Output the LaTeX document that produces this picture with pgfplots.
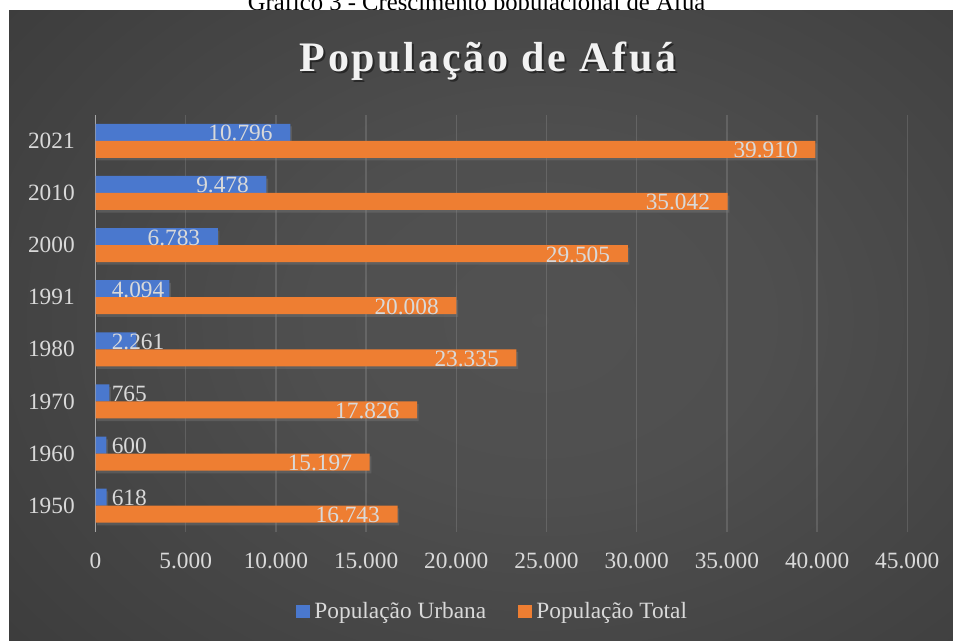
\documentclass[border=0pt]{standalone}
\usepackage{fontspec}
\setmainfont{Liberation Serif}
\newfontfamily\titlefont[LetterSpace=6.5]{Liberation Serif}
\usepackage{pgfplots}
\pgfplotsset{compat=1.18}
\usetikzlibrary{shadows}
\definecolor{labelgray}{RGB}{217,217,217}
\definecolor{barblue}{RGB}{74,120,206}
\definecolor{barorange}{RGB}{238,126,50}
\definecolor{axisgray}{RGB}{166,166,166}
\pgfdeclareradialshading{bgshade}{\pgfpoint{0bp}{0bp}}{rgb(0bp)=(0.32,0.32,0.32); rgb(10bp)=(0.31,0.31,0.31); rgb(50bp)=(0.17,0.17,0.17); rgb(75bp)=(0.14,0.14,0.14)}
\newcommand\lblfont{\fontsize{17.5}{21}\selectfont}
\begin{document}
\begin{tikzpicture}
\useasboundingbox (0,0) rectangle (714.75pt,480.75pt);
\clip (0,0) rectangle (714.75pt,480.75pt);
\fill[white] (0,0) rectangle (714.75pt,480.75pt);
\node[anchor=base, inner sep=0pt, font=\fontsize{18.5}{22}\selectfont, text=black] at (357.4pt,472.9pt) {Gráfico 3 - Crescimento populacional de Afuá};
\begin{scope}
\clip (6.75pt,0) rectangle (714.75pt,472.5pt);
\shade[shading=bgshade] (-15pt,-74.25pt) rectangle (825pt,555.75pt);
\end{scope}
% title
\node[anchor=base, inner sep=0pt, text=black, opacity=0.45, font=\titlefont\bfseries\fontsize{31.5}{36}\selectfont] at (367.5pt,425.3pt) {População de Afuá};
\node[anchor=base, inner sep=0pt, text={rgb,255:red,242;green,242;blue,242}, font=\titlefont\bfseries\fontsize{31.5}{36}\selectfont] at (366pt,426.75pt) {População de Afuá};
\begin{axis}[
  at={(71.625pt,81.9pt)}, anchor=south west,
  scale only axis, width=608.85pt, height=312.8pt,
  xmin=0, xmax=45000, ymin=-0.5, ymax=7.5,
  xtick={0,5000,...,45000},
  ytick={0,...,7},
  yticklabels={1950,1960,1970,1980,1991,2000,2010,2021},
  scaled x ticks=false,
  /pgf/number format/1000 sep={.},
  /pgf/number format/assume math mode=true,
  axis line style={draw=none},
  major tick length=0pt,
  tick style={draw=none},
  xmajorgrids,
  major grid style={draw=white, opacity=0.13, line width=1.1pt},
  extra x ticks={0},
  extra x tick labels={},
  extra x tick style={major grid style={draw=axisgray, opacity=1, line width=1.1pt}},
  ticklabel style={font=\lblfont, text=labelgray},
  yticklabel style={inner sep=0pt, xshift=-15.4pt},
  xticklabel style={inner sep=0pt, yshift=-15.5pt},
  legend style={at={(0.488,-0.1906)}, anchor=center, legend columns=2, draw=none, fill=none,
    text=labelgray, font=\lblfont, nodes={inner sep=0pt},
    /tikz/every odd column/.append style={column sep=3.75pt},
    /tikz/every even column/.append style={column sep=24pt}},
]
\addlegendimage{legend image code/.code={\fill[barblue] (0pt,-4.75pt) rectangle (9.5pt,4.75pt);}}
\addlegendentry{População Urbana}
\addlegendimage{legend image code/.code={\fill[barorange] (0pt,-4.75pt) rectangle (9.5pt,4.75pt);}}
\addlegendentry{População Total}
\addplot[forget plot, xbar, bar width=12.75pt, bar shift=6.375pt, draw=none, fill=barblue,
  drop shadow={opacity=0.35, shadow xshift=1.2pt, shadow yshift=-2pt}]
  coordinates {(618,0) (600,1) (765,2) (2261,3) (4094,4) (6783,5) (9478,6) (10796,7)};
\addplot[forget plot, draw=none, mark=none, nodes near coords, point meta=explicit symbolic,
  nodes near coords style={anchor=base east, inner sep=0pt, xshift=-13.1pt, text=labelgray, font=\lblfont}]
  coordinates {(6783,5) [6.783] (9478,6) [9.478] (10796,7) [10.796]};
\addplot[forget plot, draw=none, mark=none, nodes near coords, point meta=explicit symbolic,
  nodes near coords style={anchor=base west, inner sep=0pt, xshift=12pt, text=labelgray, font=\lblfont}]
  coordinates {(0,0) [618] (0,1) [600] (0,2) [765] (0,3) [2.261] (0,4) [4.094]};
\addplot[forget plot, xbar, bar width=12.75pt, bar shift=-6.375pt, draw=none, fill=barorange,
  drop shadow={opacity=0.35, shadow xshift=1.2pt, shadow yshift=-2pt}]
  coordinates {(16743,0) (15197,1) (17826,2) (23335,3) (20008,4) (29505,5) (35042,6) (39910,7)};
\addplot[forget plot, draw=none, mark=none, nodes near coords, point meta=explicit symbolic,
  nodes near coords style={anchor=base east, inner sep=0pt, xshift=-13.1pt, yshift=-12.75pt, text=labelgray, font=\lblfont}]
  coordinates {(16743,0) [16.743] (15197,1) [15.197] (17826,2) [17.826] (23335,3) [23.335] (20008,4) [20.008] (29505,5) [29.505] (35042,6) [35.042] (39910,7) [39.910]};
\end{axis}
\end{tikzpicture}
\end{document}
